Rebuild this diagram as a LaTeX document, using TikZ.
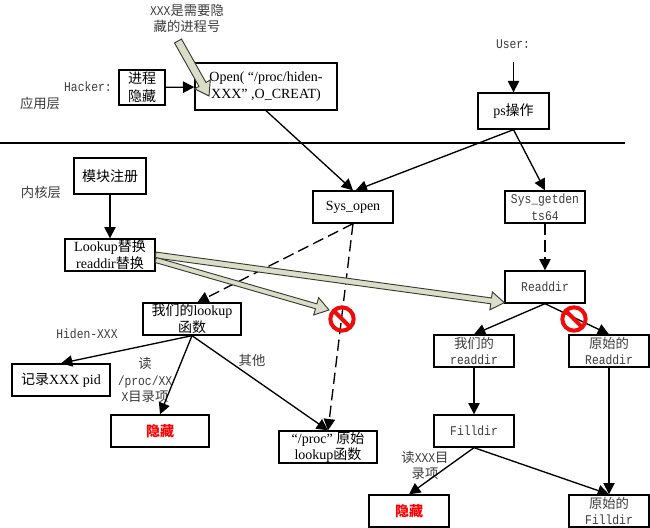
\documentclass[tikz,border=0pt]{standalone}
\usepackage{fontspec}
\setmainfont{Liberation Serif}
\setmonofont[FakeStretch=0.85]{Liberation Mono}
\newfontfamily\cjk{Noto Sans CJK SC}
\newcommand{\zh}[1]{{\cjk #1}}
\usetikzlibrary{arrows.meta,calc}
\definecolor{blockfill}{HTML}{DADDC8}
\definecolor{blockedge}{HTML}{3A3A30}
\definecolor{softtext}{HTML}{3C3C3C}
\definecolor{stopred}{HTML}{F00A0A}
\tikzset{
  x=0.75pt,y=-0.75pt,
  box/.style={draw=black,line width=1pt,fill=white,inner sep=0pt,align=center,font=\fontsize{10.5}{12.6}\selectfont,text=black},
  boxa/.style={box,minimum width=60pt,minimum height=24pt},
  boxb/.style={box,minimum width=73.5pt,minimum height=24pt},
  mono/.style={font=\fontsize{10}{12.6}\ttfamily\selectfont,text=softtext},
  note/.style={inner sep=0pt,align=center,font=\fontsize{10}{12.6}\selectfont,text=softtext},
  hidden/.style={text=red,font=\fontsize{10.5}{12.6}\bfseries\selectfont},
  link/.style={draw=black,line width=1pt,-{Triangle[length=8.5pt,width=8.5pt]}},
  dashlink/.style={link,dash pattern=on 8.5pt off 4pt},
  blockshape/.style={draw=blockedge,line width=0.7pt,fill=blockfill,line join=miter},
  stopsign/.style={circle,draw=stopred,line width=3pt,inner sep=0pt,outer sep=0pt,minimum size=17.5pt}
}
% Hollow block arrow: half shaft width, tail point, tip point
\newcommand{\blockarrow}[3]{%
  \coordinate (neck) at ($(#3)!10pt!(#2)$);
  \draw[blockshape]
    ($(#2)!#1!90:(#3)$) -- ($(neck)!#1!-90:(#2)$) -- ($(neck)!6.75pt!-90:(#2)$) -- (#3)
    -- ($(neck)!6.75pt!90:(#2)$) -- ($(neck)!#1!90:(#2)$) -- ($(#2)!#1!-90:(#3)$) -- cycle;
}
\begin{document}
\begin{tikzpicture}
\useasboundingbox[fill=white] (0,0) rectangle (650,528);

% Boundary between user space and kernel space
\coordinate (sepL) at (0,143);
\coordinate (sepR) at (625,143);
\draw[line width=1pt] (sepL) -- (sepR);

% User-space boxes
\node[box,minimum width=34.5pt,minimum height=26.25pt] (hide) at (142,87.5) {\zh{进程}\\[1pt]\zh{隐藏}};
\node[box,minimum width=106.5pt,minimum height=35.25pt] (open) at (266,86.5) {Open(\ “/proc/hiden-\\XXX”\ ,O\_CREAT)};
\node[box,minimum width=53.25pt,minimum height=27pt] (ps) at (513.5,111) {ps\zh{操作}};

% Kernel-space boxes
\node[boxa] (sysopen) at (353,207) {Sys\_open};
\node[boxa,mono,text=softtext] (getdents) at (545,207) {Sys\_getden\\ts64};
\node[boxa,mono,text=softtext] (readdir) at (545,287) {Readdir};
\node[box,minimum width=54pt,minimum height=27pt] (reg) at (110,176) {\zh{模块注册}};
\node[box,minimum width=67.5pt,minimum height=24pt] (swap) at (110,255) {Lookup\zh{替换}\\readdir\zh{替换}};
\node[boxb] (ourlookup) at (192,319) {\zh{我们的}lookup\\\zh{函数}};
\node[boxb] (record) at (61,380) {\zh{记录}XXX pid};
\node[boxb,hidden] (hideA) at (160,431) {\zh{隐藏}};
\node[boxb] (origlookup) at (328,447) {“/proc”\ \zh{原始}\\lookup\zh{函数}};
\node[boxa,mono,text=softtext] (ourreaddir) at (474,351) {\zh{我们的}\\readdir};
\node[boxa,mono,text=softtext] (origreaddir) at (609,351) {\zh{原始的}\\Readdir};
\node[boxa,mono,text=softtext] (filldir) at (474,431) {Filldir};
\node[boxa,hidden] (hideB) at (409,511) {\zh{隐藏}};
\node[boxa,mono,text=softtext] (origfilldir) at (609,511) {\zh{原始的}\\Filldir};

% Free labels
\node[mono,align=center] (xxxnote) at (187,18.5) {XXX\zh{是需要隐}\\\zh{藏的进程号}};
\node[mono] (hacker) at (88,87) {Hacker:};
\node[note] (applayer) at (40,103) {\zh{应用层}};
\node[note] (kernlayer) at (41,192) {\zh{内核层}};
\node[mono] (user) at (513,44) {User:};
\coordinate (userfoot) at (513.5,62);
\node[mono] (hiden) at (87,334) {Hiden-XXX};
\node[mono,align=center] (readproc) at (145,380) {\zh{读}\\/proc/XX\\X\zh{目录项}};
\node[note] (other) at (252,360) {\zh{其他}};
\node[mono,align=center] (readxxx) at (425,465.5) {\zh{读}XXX\zh{目}\\\zh{录项}};

% Control flow
\draw[link] (hide) -- (open);
\draw[link] (open.south) -- (sysopen.north);
\draw[link] (userfoot) -- (ps.north);
\draw[link] (ps.south) -- ([xshift=2pt]sysopen.north);
\draw[link] (ps.south) -- (getdents.north);
\draw[dashlink] (getdents.south) -- (readdir.north);
\draw[dashlink] (sysopen.south) -- ([xshift=4pt]ourlookup.north);
\draw[dashlink] (sysopen.south) -- (origlookup.north);
\draw[link] (reg.south) -- (swap.north);
\draw[link] (ourlookup.south) -- (record.north);
\draw[link] (ourlookup.south) -- (hideA.north);
\draw[link] (ourlookup.south) -- (origlookup.north);
\draw[link] (readdir.south) -- (ourreaddir.north);
\draw[link] (readdir.south) -- (origreaddir.north);
\draw[link] (ourreaddir.south) -- (filldir.north);
\draw[link] (origreaddir.south) -- (origfilldir.north);
\draw[link] (filldir.south) -- (hideB.north);
\draw[link] (filldir.south) -- (origfilldir.north);

% Block arrows marking the hooks
\coordinate (noteTail) at (178,41);
\coordinate (noteTip) at (209,96);
\blockarrow{3pt}{noteTail}{noteTip}
\coordinate (swapTailA) at ($(swap.east)+(0,0)$);
\coordinate (readdirTip) at ($(readdir.south west)+(0,-1)$);
\blockarrow{2.2pt}{swapTailA}{readdirTip}
\coordinate (swapTailB) at ($(swap.east)+(0,5)$);
\coordinate (blockedTip) at (329,310);
\blockarrow{1.9pt}{swapTailB}{blockedTip}

% No-entry signs over the paths that are cut off
\node[stopsign] (stopA) at (342,319) {};
\draw[stopred,line width=3pt] (stopA.135) -- (stopA.-45);
\node[stopsign] (stopB) at (574,319) {};
\draw[stopred,line width=3pt] (stopB.135) -- (stopB.-45);
\end{tikzpicture}
\end{document}
